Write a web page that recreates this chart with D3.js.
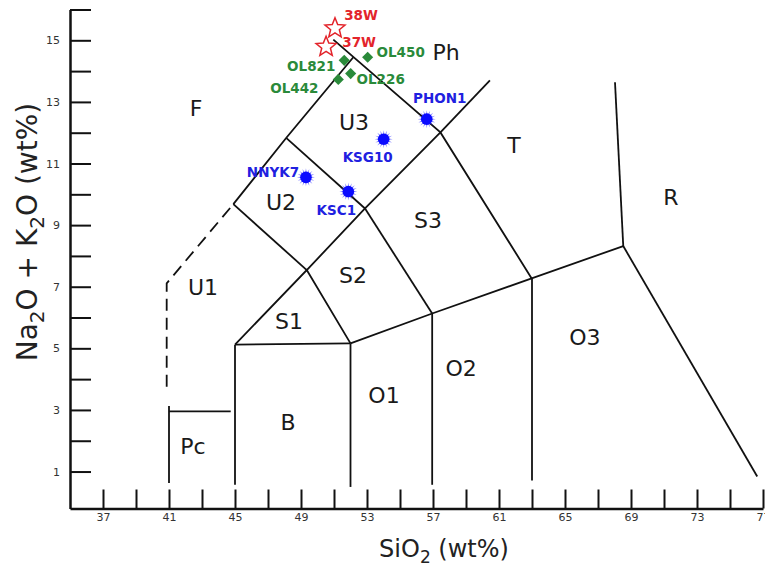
<!DOCTYPE html>
<html>
<head>
<meta charset="utf-8">
<script src="https://cdn.jsdelivr.net/npm/d3@7"></script>
<style>
  html, body { margin: 0; padding: 0; background: #fff; }
  svg { display: block; font-family: "DejaVu Sans", sans-serif; }
</style>
</head>
<body>
<svg id="chart" width="765" height="568"></svg>
<script>
// ---- Axis ticks ----
const sio2Ticks = d3.range(37, 78, 2);
const alkaliTicks = d3.range(1, 17);

// ---- TAS field boundaries (SiO2, Na2O+K2O) ----
const boundaries = [
  [[41, 0.63], [41, 3.13]],
  [[41, 2.95], [44.74, 2.95]],
  [[45, 0.57], [45, 5.12]],
  [[52, 0.5], [52, 5.16]],
  [[56.95, 0.57], [56.95, 6.13]],
  [[63, 0.71], [63, 7.27]],
  [[45, 5.12], [52, 5.16]],
  [[45, 5.12], [49.35, 7.54], [52, 5.16]],
  [[52, 5.16], [56.95, 6.13], [62.98, 7.27], [68.53, 8.32]],
  [[68.53, 8.32], [76.65, 0.84]],
  [[68.53, 8.32], [68.03, 13.64]],
  [[57.45, 12.01], [60.45, 13.7]],
  [[50.96, 15.02], [57.45, 12.01], [62.98, 7.27]],
  [[49.35, 7.54], [52.88, 9.54], [57.45, 12.01]],
  [[52.88, 9.54], [56.95, 6.13]],
  [[44.9, 9.68], [49.35, 7.54]],
  [[48.1, 11.83], [52.88, 9.54]],
  [[44.9, 9.68], [48.1, 11.83], [52.17, 14.45]]
];
const dashedBoundary = [[40.86, 3.75], [40.86, 7.11], [44.9, 9.68]];

// ---- Field names ----
const fieldNames = ["F", "Ph", "U3", "T", "R", "U2", "S3", "U1", "S2", "S1", "O3", "O2", "O1", "B", "Pc"];
const fieldSiO2 = [42.64, 57.79, 52.21, 61.91, 71.42, 47.79, 56.7, 43.06, 52.15, 48.27, 66.21, 58.7, 54.03, 48.21, 42.45];
const fieldAlkali = [12.8, 14.62, 12.35, 11.6, 9.91, 9.75, 9.17, 7.0, 7.39, 5.89, 5.37, 4.36, 3.48, 2.61, 1.83];

// ---- Samples ----
const redNames = ["38W", "37W"];
const redSiO2 = [51.06, 50.52];
const redAlkali = [15.39, 14.79];

const greenNames = ["OL821", "OL450", "OL226", "OL442"];
const greenSiO2 = [51.62, 53.04, 52.01, 51.26];
const greenAlkali = [14.35, 14.45, 13.92, 13.73];

const blueNames = ["PHON1", "KSG10", "KSC1", "NNYK7"];
const blueSiO2 = [56.62, 54.01, 51.87, 49.30];
const blueAlkali = [12.44, 11.79, 10.09, 10.55];

// label placement relative to each marker (px): [dx, dy]
const labelOffset = {
  "38W": [26, -8], "37W": [33, 0],
  "OL821": [-33, 10.5], "OL450": [33, 0], "OL226": [30, 10], "OL442": [-44, 14],
  "PHON1": [13, -16], "KSG10": [-16, 22.5], "KSC1": [-12, 23.5], "NNYK7": [-33, -0.5]
};

const svg = d3.select("#chart");

const x = d3.scaleLinear().domain([35, 77]).range([70, 763]);
const y = d3.scaleLinear().domain([-0.2, 16]).range([508.5, 9.5]);

// ---- Axes ----
const xAxis = d3.axisBottom(x)
  .tickValues(sio2Ticks)
  .tickSize(-19)
  .tickSizeOuter(0)
  .tickPadding(5)
  .tickFormat(d => (d - 37) % 4 === 0 ? d : "");
const yAxis = d3.axisLeft(y)
  .tickValues(alkaliTicks)
  .tickSize(-21)
  .tickSizeOuter(0)
  .tickPadding(10)
  .tickFormat(d => d % 2 === 1 ? d : "");

const gx = svg.append("g").attr("transform", `translate(0,${y(-0.2)})`).call(xAxis);
const gy = svg.append("g").attr("transform", `translate(${x(35)},0)`).call(yAxis);
[gx, gy].forEach(g => {
  g.select(".domain").attr("stroke", "#111").attr("stroke-width", 2.5);
  g.selectAll(".tick line").attr("stroke", "#111").attr("stroke-width", 2);
  g.selectAll(".tick text").attr("fill", "#333").attr("font-size", 11)
    .attr("font-family", "DejaVu Sans, sans-serif");
});

// ---- Axis titles ----
const xt = svg.append("text")
  .attr("x", 444).attr("y", 557)
  .attr("text-anchor", "middle")
  .attr("font-size", 24).attr("fill", "#222");
xt.append("tspan").text("SiO");
xt.append("tspan").attr("font-size", 17).attr("dy", 6).text("2");
xt.append("tspan").attr("dy", -6).text(" (wt%)");

const yt = svg.append("text")
  .attr("transform", "translate(36.5,232) rotate(-90)")
  .attr("text-anchor", "middle")
  .attr("font-size", 28).attr("fill", "#222");
yt.append("tspan").text("Na");
yt.append("tspan").attr("font-size", 20).attr("dy", 7).text("2");
yt.append("tspan").attr("dy", -7).text("O + K");
yt.append("tspan").attr("font-size", 20).attr("dy", 7).text("2");
yt.append("tspan").attr("dy", -7).text("O (wt%)");

// ---- Field boundaries ----
const line = d3.line().x(d => x(d[0])).y(d => y(d[1]));
svg.append("g")
  .selectAll("path")
  .data(boundaries)
  .join("path")
  .attr("d", line)
  .attr("fill", "none")
  .attr("stroke", "#111")
  .attr("stroke-width", 1.8)
  .attr("stroke-linejoin", "miter");

svg.append("path")
  .attr("d", line(dashedBoundary))
  .attr("fill", "none")
  .attr("stroke", "#111")
  .attr("stroke-width", 1.8)
  .attr("stroke-dasharray", "12,7");

// ---- Field names ----
svg.append("g")
  .selectAll("text")
  .data(fieldNames)
  .join("text")
  .attr("x", (d, i) => x(fieldSiO2[i]))
  .attr("y", (d, i) => y(fieldAlkali[i]))
  .attr("dy", "0.36em")
  .attr("text-anchor", "middle")
  .attr("font-size", 22)
  .attr("fill", "#1a1a1a")
  .text(d => d);

// ---- Marker shapes ----
function starPath(points, outer, inner) {
  const pts = [];
  for (let k = 0; k < points * 2; k++) {
    const r = k % 2 === 0 ? outer : inner;
    const a = -Math.PI / 2 + k * Math.PI / points;
    pts.push([r * Math.cos(a), r * Math.sin(a)]);
  }
  return "M" + pts.map(p => p[0].toFixed(2) + "," + p[1].toFixed(2)).join("L") + "Z";
}

function drawSeries(names, sio2, alk, color, drawMarker) {
  const g = svg.append("g");
  const pts = names.map((n, i) => ({ name: n, px: x(sio2[i]), py: y(alk[i]) }));
  const m = g.selectAll("g.m").data(pts).join("g")
    .attr("class", "m")
    .attr("transform", d => `translate(${d.px},${d.py})`);
  drawMarker(m);
  g.selectAll("text").data(pts).join("text")
    .attr("x", d => d.px + labelOffset[d.name][0])
    .attr("y", d => d.py + labelOffset[d.name][1])
    .attr("text-anchor", "middle")
    .attr("font-size", 13.5)
    .attr("font-weight", "bold")
    .attr("fill", color)
    .text(d => d.name);
}

// Blue samples: spiky burst
drawSeries(blueNames, blueSiO2, blueAlkali, "#2020e0", sel => {
  sel.append("path").attr("d", starPath(16, 9, 4.5)).attr("fill", "#3a3aff").attr("opacity", 0.6);
  sel.append("circle").attr("r", 5.8).attr("fill", "#0a0aff");
});

// Green samples: diamonds
drawSeries(greenNames, greenSiO2, greenAlkali, "#2a8a3a", sel => {
  sel.append("path")
    .attr("d", d3.symbol().type(d3.symbolSquare).size(62)())
    .attr("transform", "rotate(45)")
    .attr("fill", "#2a8a3a");
});

// Red samples: open stars
drawSeries(redNames, redSiO2, redAlkali, "#e3242b", sel => {
  sel.append("path")
    .attr("d", starPath(5, 10.5, 4.6))
    .attr("fill", "none")
    .attr("stroke", "#e3242b")
    .attr("stroke-width", 1.5)
    .attr("stroke-linejoin", "miter");
});
</script>
</body>
</html>
